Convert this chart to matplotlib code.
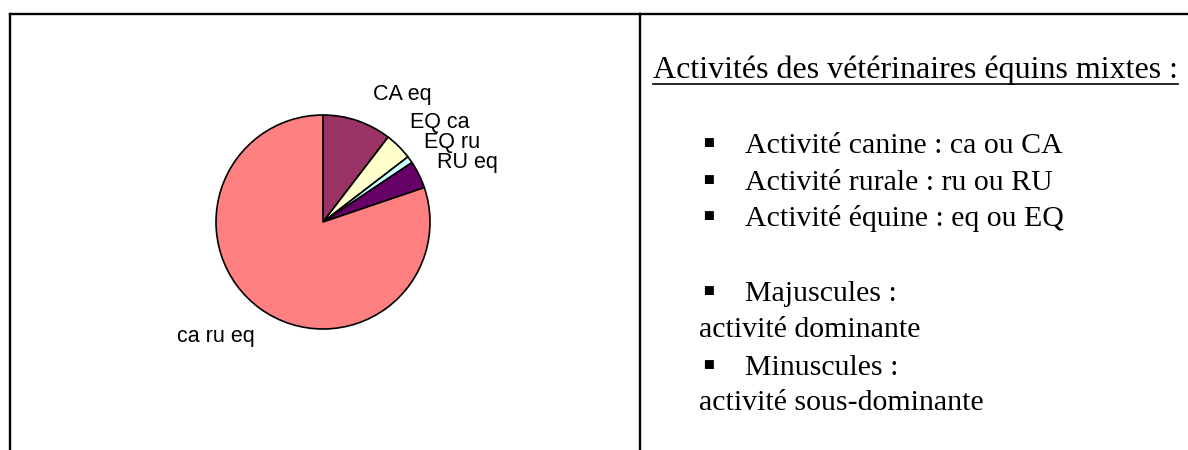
import matplotlib
matplotlib.use('Agg')
import matplotlib.pyplot as plt

# Données du graphique
categories = ['CA eq', 'EQ ca', 'EQ ru', 'RU eq', 'ca ru eq']
counts = [10, 4, 1, 4, 77]
colors = ['#993366', '#FFFFCC', '#CCFFFF', '#660066', '#FF8080']

# Texte de la légende (cellule de droite)
title = "Activités des vétérinaires équins mixtes :"
bullet_lines = ["Activité canine : ca ou CA",
                "Activité rurale : ru ou RU",
                "Activité équine : eq ou EQ"]
case_lines = [("Majuscules :", "activité dominante"),
              ("Minuscules :", "activité sous-dominante")]

# Position des étiquettes (en rayons, autour du centre)
label_pos = [(0.74, 1.19), (1.09, 0.93), (1.21, 0.74), (1.35, 0.56), (-1.0, -1.07)]

W, H = 1188, 450
fig = plt.figure(figsize=(W / 100, H / 100), dpi=100)

# calque en pixels pour le cadre et le texte
bg = fig.add_axes([0, 0, 1, 1])
bg.set_xlim(0, W)
bg.set_ylim(H, 0)
bg.axis('off')

lw = 1.7
bg.plot([10, W], [14, 14], color='black', lw=lw, solid_capstyle='projecting')
bg.plot([10, 10], [14, H], color='black', lw=lw, solid_capstyle='projecting')
bg.plot([640, 640], [14, H], color='black', lw=lw, solid_capstyle='projecting')

# Camembert
cx, cy, r = 323, 222, 107
ax = fig.add_axes([(cx - r) / W, (H - cy - r) / H, 2 * r / W, 2 * r / H])
ax.pie(counts, colors=colors, startangle=90, counterclock=False, radius=1,
       wedgeprops=dict(edgecolor='black', linewidth=1.2))
ax.set_xlim(-1, 1)
ax.set_ylim(-1, 1)
for lab, (lx, ly) in zip(categories, label_pos):
    ax.text(lx, ly, lab, ha='center', va='center', fontsize=15.5,
            family='Liberation Sans', clip_on=False)

serif = 'Liberation Serif'
bullet_fam = ['Liberation Serif', 'DejaVu Sans']
fs = 21.5

t = bg.text(653, 78, title, fontsize=23, family=serif, va='baseline')
fig.canvas.draw()
bb = t.get_window_extent(renderer=fig.canvas.get_renderer())
bg.plot([bb.x0, bb.x1], [84, 84], color='black', lw=1.2)

for y, line in zip([153, 190, 226], bullet_lines):
    bg.text(702, y + 1, '\u25aa', fontsize=26, family=bullet_fam, va='baseline')
    bg.text(745, y, line, fontsize=fs, family=serif, va='baseline')

for (y1, y2), (head, rest) in zip([(301, 337), (375, 410)], case_lines):
    bg.text(702, y1 + 1, '\u25aa', fontsize=26, family=bullet_fam, va='baseline')
    bg.text(745, y1, head, fontsize=fs, family=serif, va='baseline')
    bg.text(699, y2, rest, fontsize=fs, family=serif, va='baseline')

fig.savefig('out.png', dpi=100)
